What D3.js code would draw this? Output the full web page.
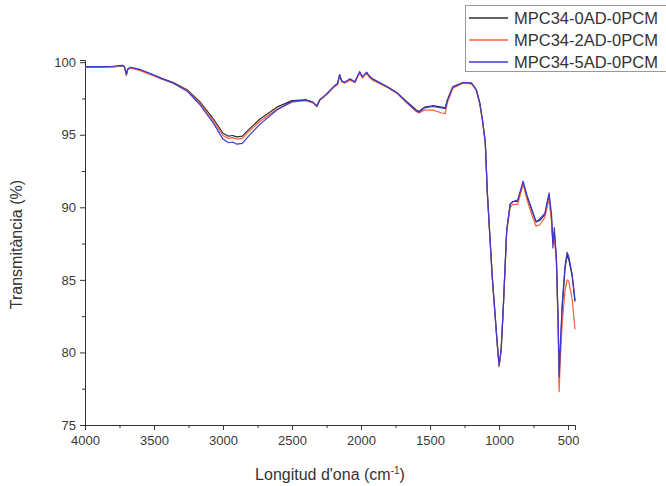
<!DOCTYPE html>
<html>
<head>
<meta charset="utf-8">
<script src="https://cdn.jsdelivr.net/npm/d3@7/dist/d3.min.js"></script>
<style>
  html, body { margin: 0; padding: 0; background: #fff; }
  svg { display: block; font-family: "Liberation Sans", Arial, sans-serif; }
</style>
</head>
<body>
<svg id="chart" width="666" height="486"></svg>
<script>
// FTIR spectra: wavenumber (cm-1) and transmittance (%) for each sample
const wavenumbers = [4000, 3900, 3800, 3730, 3715, 3700, 3690, 3670, 3600, 3500, 3450, 3360, 3260, 3170, 3070, 3000, 2960, 2930, 2900, 2860, 2820, 2730, 2610, 2500, 2400, 2350, 2320, 2300, 2250, 2200, 2170, 2155, 2140, 2120, 2080, 2045, 2010, 1990, 1960, 1940, 1915, 1810, 1740, 1670, 1600, 1580, 1540, 1480, 1415, 1390, 1375, 1335, 1260, 1200, 1165, 1140, 1120, 1100, 1085, 1050, 1015, 1000, 985, 970, 945, 920, 900, 865, 826, 797, 760, 732, 705, 668, 638, 620, 610, 600, 585, 572, 565, 555, 543, 522, 507, 495, 471, 450];

const mpc0AD = [99.65, 99.65, 99.68, 99.75, 99.7, 99.1, 99.5, 99.62, 99.45, 99.1, 98.9, 98.6, 98.1, 97.3, 96.1, 95.1, 94.9, 94.95, 94.85, 94.9, 95.3, 96.1, 96.9, 97.35, 97.4, 97.25, 97.0, 97.4, 97.8, 98.3, 98.5, 99.1, 98.7, 98.6, 98.8, 98.6, 99.3, 98.95, 99.3, 99.0, 98.8, 98.3, 97.9, 97.3, 96.7, 96.6, 96.9, 97.0, 96.9, 96.85, 97.4, 98.3, 98.6, 98.55, 98.1, 97.2, 96.0, 94.5, 91.0, 85.3, 80.8, 79.1, 80.2, 83.0, 88.4, 90.2, 90.4, 90.4, 91.7, 90.7, 89.7, 89.0, 89.1, 89.5, 90.8, 89.2, 87.6, 88.3, 86.6, 82.0, 78.6, 80.5, 83.0, 85.8, 86.7, 86.4, 85.3, 83.5];

const mpc2AD = [99.65, 99.65, 99.68, 99.75, 99.7, 99.15, 99.5, 99.6, 99.42, 99.05, 98.85, 98.55, 98.05, 97.2, 95.95, 94.95, 94.75, 94.8, 94.7, 94.75, 95.15, 95.95, 96.75, 97.25, 97.35, 97.2, 96.95, 97.35, 97.75, 98.25, 98.45, 99.05, 98.65, 98.55, 98.75, 98.6, 99.25, 98.9, 99.25, 98.95, 98.75, 98.25, 97.85, 97.2, 96.6, 96.5, 96.7, 96.7, 96.5, 96.45, 97.2, 98.2, 98.55, 98.5, 98.05, 97.1, 95.9, 94.4, 90.9, 85.2, 80.7, 79.0, 80.1, 82.9, 88.3, 90.0, 90.2, 90.2, 91.6, 90.5, 89.4, 88.7, 88.8, 89.3, 90.6, 89.0, 87.5, 88.0, 86.3, 81.5, 77.3, 79.8, 82.0, 84.3, 85.0, 84.9, 83.7, 81.6];

const mpc5AD = [99.7, 99.7, 99.72, 99.78, 99.72, 99.2, 99.55, 99.65, 99.5, 99.12, 98.9, 98.55, 98.0, 97.1, 95.8, 94.7, 94.45, 94.5, 94.35, 94.4, 94.85, 95.75, 96.7, 97.3, 97.4, 97.25, 96.95, 97.4, 97.8, 98.3, 98.55, 99.15, 98.7, 98.6, 98.85, 98.65, 99.35, 99.0, 99.3, 99.05, 98.85, 98.3, 97.9, 97.25, 96.65, 96.55, 96.85, 96.95, 96.85, 96.8, 97.35, 98.3, 98.6, 98.55, 98.1, 97.2, 96.0, 94.5, 91.0, 85.3, 80.8, 79.1, 80.2, 83.0, 88.4, 90.2, 90.4, 90.5, 91.8, 90.8, 89.8, 89.0, 89.2, 89.6, 91.0, 89.5, 87.2, 88.6, 86.4, 82.2, 78.3, 80.7, 83.3, 86.0, 86.9, 86.6, 85.4, 83.6];

const seriesNames = ["MPC34-0AD-0PCM", "MPC34-2AD-0PCM", "MPC34-5AD-0PCM"];
const seriesColors = ["#2e2e2e", "#f2603f", "#3a3ad0"];
const seriesValues = [mpc0AD, mpc2AD, mpc5AD];

const xMajorTicks = [4000, 3500, 3000, 2500, 2000, 1500, 1000, 500];
const xMinorTicks = [3750, 3250, 2750, 2250, 1750, 1250, 750];
const yMajorTicks = [75, 80, 85, 90, 95, 100];
const yMinorTicks = [77.5, 82.5, 87.5, 92.5, 97.5];

const svg = d3.select("#chart");

const x = d3.scaleLinear().domain([4000, 450]).range([85, 575]);
const y = d3.scaleLinear().domain([75, 100.15]).range([425, 60]);

// Axes
svg.append("g").attr("transform", `translate(0,${y(75)})`)
  .call(d3.axisBottom(x).tickValues(xMajorTicks).tickSize(5).tickPadding(6).tickFormat(d3.format("d")));
svg.append("g").attr("transform", `translate(0,${y(75)})`)
  .call(d3.axisBottom(x).tickValues(xMinorTicks).tickSize(3).tickFormat(""))
  .select(".domain").remove();

svg.append("g").attr("transform", `translate(${x(4000)},0)`)
  .call(d3.axisLeft(y).tickValues(yMajorTicks).tickSize(5).tickPadding(4).tickFormat(d3.format("d")));
svg.append("g").attr("transform", `translate(${x(4000)},0)`)
  .call(d3.axisLeft(y).tickValues(yMinorTicks).tickSize(3).tickFormat(""))
  .select(".domain").remove();

svg.selectAll(".tick line, .domain").attr("stroke", "#333").attr("stroke-width", 1);
svg.selectAll(".tick text").attr("fill", "#3a3a3a").style("font-size", "13px")
  .style("font-family", "'Liberation Sans', Arial, sans-serif");

// Axis titles
svg.append("text")
  .attr("transform", `translate(22,${(y(75) + y(100)) / 2 + 1}) rotate(-90)`)
  .attr("text-anchor", "middle")
  .attr("fill", "#333")
  .style("font-size", "16px")
  .text("Transmitància (%)");

const xt = svg.append("text")
  .attr("x", 330).attr("y", 480)
  .attr("text-anchor", "middle")
  .attr("fill", "#333")
  .style("font-size", "16px");
xt.append("tspan").text("Longitud d'ona (cm");
xt.append("tspan").attr("dy", -6).style("font-size", "10px").text("-1");
xt.append("tspan").attr("dy", 6).text(")");

// Spectra
const line = d3.line()
  .x(d => x(d[0]))
  .y(d => y(d[1]));

seriesValues.forEach((vals, i) => {
  svg.append("path")
    .datum(wavenumbers.map((w, k) => [w, vals[k]]))
    .attr("fill", "none")
    .attr("stroke", seriesColors[i])
    .attr("stroke-width", 1.2)
    .attr("stroke-linejoin", "round")
    .attr("d", line);
});

// Legend
const legend = svg.append("g");
legend.append("rect")
  .attr("x", 465.5).attr("y", 5.5).attr("width", 210).attr("height", 66)
  .attr("fill", "#fff").attr("stroke", "#999").attr("stroke-width", 1);
seriesNames.forEach((name, i) => {
  const cy = 18 + i * 22;
  legend.append("line")
    .attr("x1", 469).attr("x2", 508).attr("y1", cy).attr("y2", cy)
    .attr("stroke", seriesColors[i]).attr("stroke-width", 1.5);
  legend.append("text")
    .attr("x", 514).attr("y", cy + 6)
    .attr("fill", "#333")
    .style("font-size", "16.5px")
    .text(name);
});
</script>
</body>
</html>
